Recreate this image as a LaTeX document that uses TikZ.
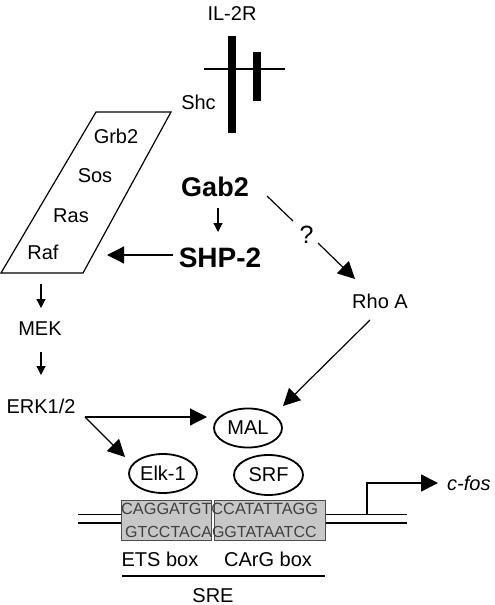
\documentclass[tikz,border=0pt]{standalone}
\usepackage{fontspec}
\setmainfont{Liberation Sans}
\usetikzlibrary{arrows.meta,shapes.geometric}
\begin{document}
\begin{tikzpicture}[x=1pt,y=-1pt,
  lbl/.style={font=\fontsize{20}{22}\selectfont, inner sep=0pt, anchor=base},
  boldlbl/.style={font=\fontsize{27}{29}\selectfont\bfseries, inner sep=0pt, anchor=base},
  conn/.style={line width=1.2pt},
  bigarr/.style={conn, -{Triangle[length=17pt,width=17pt]}},
  smallarr/.style={conn, -{Triangle[length=9pt,width=9pt]}},
  oval/.style={ellipse, draw, line width=1.8pt, inner sep=0pt, minimum width=68pt, minimum height=39pt, font=\fontsize{20}{22}\selectfont},
  seq/.style={font=\fontsize{16.3}{18}\selectfont, text=black!75, inner sep=0pt, anchor=base west},
  seqbox/.style={fill=black!22, draw=black!70, line width=1pt},
  dna/.style={line width=1.2pt},
  ]
\useasboundingbox (0,0) rectangle (495,605);

% receptor
\node[lbl] (il2r) at (232,20) {IL-2R};
\fill (228,36) rectangle (236,133);
\fill (253,52) rectangle (261,101);
\draw[line width=1.5pt] (204,69) -- (285,69);
\node[lbl] (shc) at (198.5,109) {Shc};

% parallelogram
\draw[line width=1.2pt] (96,112) -- (171,112) -- (83,273) -- (1,273) -- cycle;
\node[lbl] (grb2) at (116,143) {Grb2};
\node[lbl] (sos) at (95,182) {Sos};
\node[lbl] (ras) at (71,222) {Ras};
\node[lbl] (raf) at (43,259) {Raf};

% Gab2 / SHP-2
\node[boldlbl] (gab2) at (215,196) {Gab2};
\node[boldlbl, font=\fontsize{28}{30}\selectfont\bfseries] (shp2) at (220,267) {SHP-2};
\node[font=\fontsize{25}{27}\selectfont, inner sep=0pt, anchor=base] (q) at (306.5,243) {?};
\node[lbl] (rhoa) at (380,308) {Rho A};

\node[lbl] (mek) at (40,335) {MEK};
\node[lbl] (erk) at (41,413) {ERK1/2};

\node[oval] (mal) at (248,428) {MAL};
\node[oval] (elk) at (163,473.5) {Elk-1};
\node[oval, minimum width=69pt, minimum height=40pt] (srf) at (268.5,475) {SRF};

% connector end points
\coordinate (gab2out) at (218,208);
\coordinate (shp2in) at (218,232);
\coordinate (shp2out) at (173,255);
\coordinate (rafin) at (107,255);
\coordinate (gab2r) at (267,196);
\coordinate (qin) at (293,221);
\coordinate (qout) at (318,243);
\coordinate (rhoin) at (355,279);
\coordinate (rafout) at (41,284);
\coordinate (mekin) at (41,308);
\coordinate (mekout) at (41,352);
\coordinate (erkin) at (41,375);
\coordinate (erkout) at (85,417);
\coordinate (malin) at (207,417);
\coordinate (elkin) at (125,457);
\coordinate (rhoout) at (370,320);
\coordinate (malin2) at (283,406);

\draw[smallarr] (gab2out) -- (shp2in);
\draw[bigarr] (shp2out) -- (rafin);
\draw[conn] (gab2r) -- (qin);
\draw[bigarr] (qout) -- (rhoin);
\draw[smallarr] (rafout) -- (mekin);
\draw[smallarr] (mekout) -- (erkin);
\draw[bigarr] (erkout) -- (malin);
\draw[bigarr] (erkout) -- (elkin);
\draw[bigarr] (rhoout) -- (malin2);

% DNA
\draw[dna] (78,514.5) -- (121,514.5) (78,523) -- (121,523);
\draw[dna] (325,514.5) -- (407,514.5) (325,523) -- (407,523);
\draw[seqbox] (121,500) rectangle (211,540);
\draw[seqbox] (214,500) rectangle (325,540);
\node[seq] (top) at (121,514) {CAGGATGTCCATATTAGG};
\node[seq, font=\fontsize{16}{18}\selectfont] (bot) at (125,537) {GTCCTACAGGTATAATCC};

% transcription start
\coordinate (tss) at (367,514.5);
\coordinate (tssbend) at (367,483);
\coordinate (tssend) at (438,483);
\node[font=\fontsize{20}{22}\selectfont\itshape, inner sep=0pt, anchor=base west] (cfos) at (447,490) {c-fos};
\draw[line width=1.8pt, -{Triangle[length=17pt,width=17pt]}] (tss) -- (tssbend) -- (tssend);

% labels
\node[lbl] (ets) at (160,566) {ETS box};
\node[lbl] (carg) at (268,566) {CArG box};
\coordinate (sreL) at (122,576);
\coordinate (sreR) at (325,576);
\draw[conn] (sreL) -- (sreR);
\node[lbl] (sre) at (213,602) {SRE};
\end{tikzpicture}
\end{document}
